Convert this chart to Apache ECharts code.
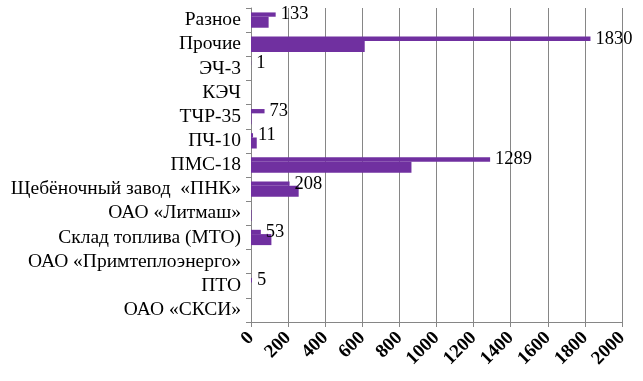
<!DOCTYPE html>
<html><head><meta charset="utf-8">
<script src="https://cdn.jsdelivr.net/npm/echarts@6/dist/echarts.min.js"></script>
<style>html,body{margin:0;padding:0;background:#fff}#c{width:643px;height:381px}</style>
</head><body><div id="c"></div>
<script>
const categories = ['Разное','Прочие','ЭЧ-3','КЭЧ','ТЧР-35','ПЧ-10','ПМС-18','Щебёночный завод  «ПНК»','ОАО «Литмаш»','Склад топлива (МТО)','ОАО «Примтеплоэнерго»','ПТО','ОАО «СКСИ»'];
const labeledValues = [133,1830,1,null,73,11,1289,208,null,53,null,5,null];
const otherValues = [95,613,null,null,3,31,865,257,3,110,null,null,null];
const xTicks = {min:0,max:2000,interval:200};

const chart = echarts.init(document.getElementById('c'));
const purple = '#7030A0';
const serif = '"Liberation Serif", "Times New Roman", serif';
chart.setOption({
  animation:false,
  grid:{left:251,right:21,top:8,bottom:59,containLabel:false},
  xAxis:{type:'value',min:xTicks.min,max:xTicks.max,interval:xTicks.interval,
    axisLine:{show:true,lineStyle:{color:'#868686'}},
    axisTick:{show:true,length:5,lineStyle:{color:'#868686'}},
    splitLine:{show:true,lineStyle:{color:'#868686',width:1}},
    axisLabel:{rotate:45,color:'#000',fontFamily:serif,fontSize:19,fontWeight:'bold',margin:13,
      formatter:function(v){return String(v);}}},
  yAxis:{type:'category',data:categories,inverse:true,
    axisLine:{show:true,lineStyle:{color:'#868686'}},
    axisTick:{show:true,length:5,lineStyle:{color:'#868686'}},
    axisLabel:{color:'#000',fontFamily:serif,fontSize:19.5,margin:10,interval:0}},
  series:[
    {type:'bar',data:labeledValues,barWidth:4.3,barGap:0,itemStyle:{color:purple},
     label:{show:true,position:'right',distance:5,color:'#000',fontFamily:serif,fontSize:18.5}},
    {type:'bar',data:otherValues,barWidth:11,barGap:0,itemStyle:{color:purple}}
  ]
});
</script></body></html>
